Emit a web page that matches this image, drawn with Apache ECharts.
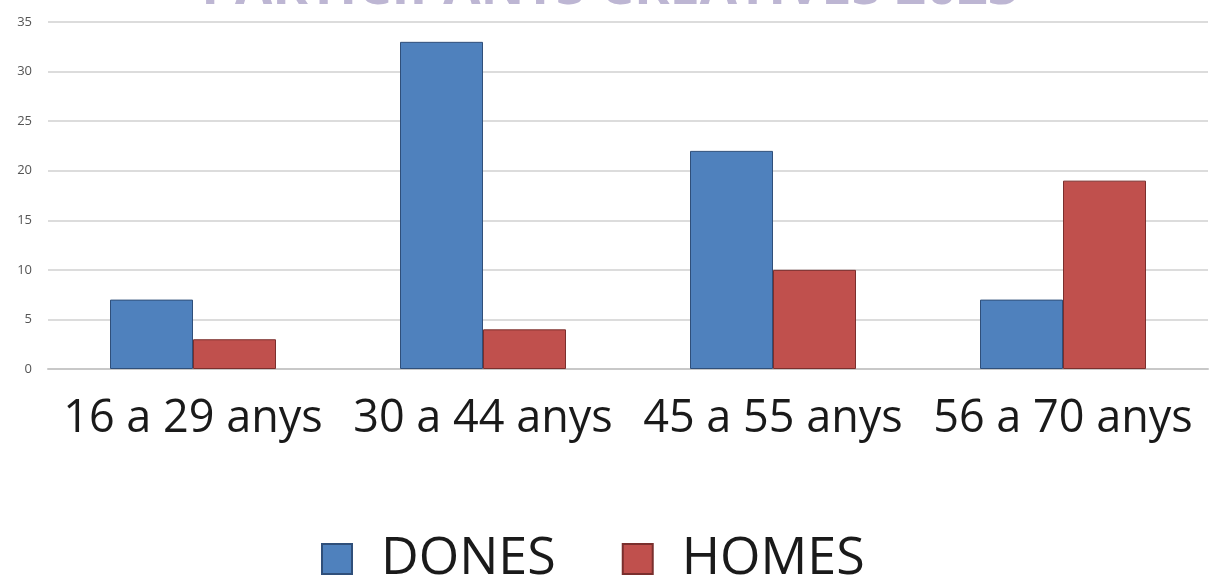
<!DOCTYPE html>
<html>
<head>
<meta charset="utf-8">
<script src="https://cdn.jsdelivr.net/npm/echarts@6/dist/echarts.min.js"></script>
<style>html,body{margin:0;padding:0;background:#fff;}#c{width:1220px;height:578px;}</style>
</head>
<body>
<div id="c"></div>
<script>
const titleText = "PARTICIPANTS CREATIVES 2023";
const categories = ["16 a 29 anys", "30 a 44 anys", "45 a 55 anys", "56 a 70 anys"];
const seriesNames = ["DONES", "HOMES"];
const dones = [7, 33, 22, 7];
const homes = [3, 4, 10, 19];
const yTicks = [0, 5, 10, 15, 20, 25, 30, 35];

const chart = echarts.init(document.getElementById('c'), null, {renderer: 'canvas'});
chart.setOption({
  animation: false,
  backgroundColor: '#ffffff',
  title: {
    text: titleText,
    left: 'center',
    top: -43,
    textStyle: {fontFamily: 'Open Sans', fontWeight: 'bold', fontSize: 54, lineHeight: 54, color: '#bdb6d3'}
  },
  legend: {
    data: seriesNames,
    left: 316,
    top: 528,
    itemWidth: 30,
    itemHeight: 30,
    itemGap: 66,
    icon: 'rect',
    textStyle: {fontFamily: 'Open Sans', fontSize: 52, color: '#1a1a1a', padding: [0, 0, 0, 24]}
  },
  grid: {left: 48, right: 12, top: 22, bottom: 209, containLabel: false},
  xAxis: {
    type: 'category',
    data: categories,
    axisLine: {show: true, lineStyle: {color: '#c8c8c8', width: 2}},
    axisTick: {show: false},
    axisLabel: {interval: 0, fontFamily: 'Open Sans', fontSize: 45, color: '#1a1a1a', margin: 28}
  },
  yAxis: {
    type: 'value',
    min: yTicks[0],
    max: yTicks[yTicks.length - 1],
    interval: 5,
    axisLine: {show: false},
    axisTick: {show: false},
    axisLabel: {fontFamily: 'Open Sans', fontSize: 13, color: '#555555', margin: 16},
    splitLine: {lineStyle: {color: '#dcdcdc', width: 2}}
  },
  series: [
    {
      name: seriesNames[0], type: 'bar', data: dones, barWidth: 83, barGap: '0%',
      itemStyle: {color: '#4f81bd', borderColor: '#2f4f7a', borderWidth: 1}
    },
    {
      name: seriesNames[1], type: 'bar', data: homes, barWidth: 83, barGap: '0%',
      itemStyle: {color: '#c0504d', borderColor: '#7a2f2d', borderWidth: 1}
    }
  ]
});
</script>
</body>
</html>
